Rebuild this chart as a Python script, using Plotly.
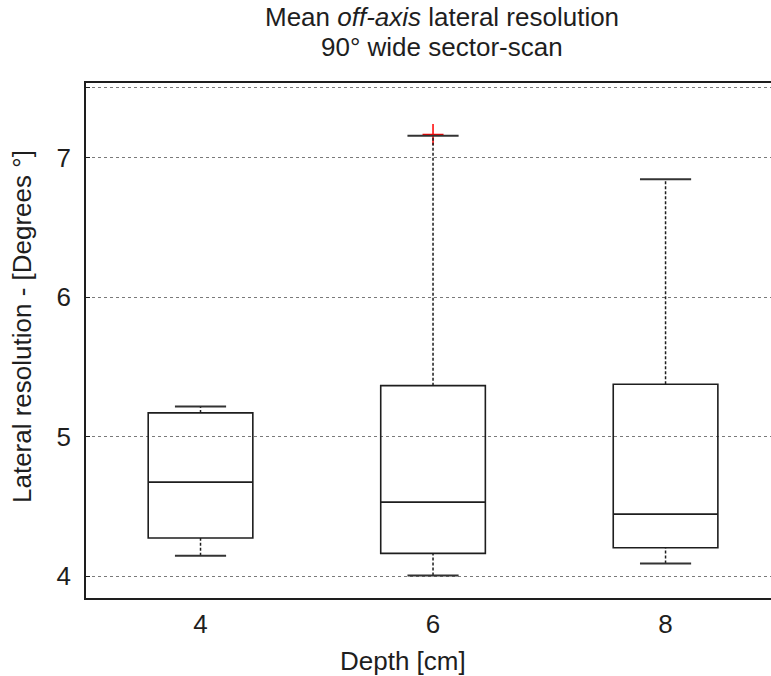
import plotly.graph_objects as go

# Summary statistics of the lateral resolution per depth (degrees)
depths = [4, 6, 8]
lower_whisker = [4.148, 4.007, 4.093]
q1 = [4.275, 4.165, 4.205]
median = [4.675, 4.532, 4.446]
q3 = [5.171, 5.366, 5.376]
upper_whisker = [5.216, 7.157, 6.845]

outlier_depth = [6]
outlier_value = [7.165]

y_ticks = [4, 5, 6, 7, 7.5]
y_tick_text = ["4", "5", "6", "7", ""]
x_ticks = [4, 6, 8]

INK = "#1e1e1e"
FONT = "Liberation Sans, Arial, sans-serif"
FS = 26
BOX_WIDTH = 0.9
CAP_HALF = 0.22

fig = go.Figure()

# Outlier (drawn first so the whisker cap sits on top of its horizontal arm)
fig.add_trace(go.Scatter(
    x=outlier_depth, y=outlier_value, mode="markers",
    marker=dict(symbol="cross-thin", size=15, line=dict(color="#ff0000", width=1.5)),
    hoverinfo="skip", showlegend=False,
))

# Boxes (quartiles + median) — whiskers drawn separately as dotted lines
fig.add_trace(go.Box(
    x=depths, q1=q1, median=median, q3=q3,
    lowerfence=q1, upperfence=q3,
    width=BOX_WIDTH, whiskerwidth=0,
    fillcolor="rgba(255,255,255,0)",
    line=dict(color=INK, width=1.6),
    boxpoints=False, hoverinfo="skip", showlegend=False,
))

# Dotted whisker stems
wx, wy = [], []
for d, lo, a, b, hi in zip(depths, lower_whisker, q1, q3, upper_whisker):
    wx += [d, d, None, d, d, None]
    wy += [lo, a, None, b, hi, None]
fig.add_trace(go.Scatter(
    x=wx, y=wy, mode="lines",
    line=dict(color=INK, width=1.5, dash="3px,2px"),
    hoverinfo="skip", showlegend=False,
))

# Solid whisker caps
cx, cy = [], []
for d, lo, hi in zip(depths, lower_whisker, upper_whisker):
    cx += [d - CAP_HALF, d + CAP_HALF, None, d - CAP_HALF, d + CAP_HALF, None]
    cy += [lo, lo, None, hi, hi, None]
fig.add_trace(go.Scatter(
    x=cx, y=cy, mode="lines",
    line=dict(color="#333333", width=2),
    hoverinfo="skip", showlegend=False,
))

fig.update_layout(
    width=771, height=676,
    margin=dict(l=86, r=0, t=83, b=78),
    paper_bgcolor="white", plot_bgcolor="white",
    font=dict(family=FONT, size=FS, color=INK),
    xaxis=dict(
        range=[3.015, 8.907],
        tickvals=x_ticks, ticktext=[str(v) for v in x_ticks],
        showgrid=False, zeroline=False,
        showline=True, linecolor=INK, linewidth=1.8, mirror=True,
        ticks="", ticklabelstandoff=2,
        tickfont=dict(size=FS, color=INK),
    ),
    yaxis=dict(
        range=[3.845, 7.534],
        tickvals=y_ticks, ticktext=y_tick_text,
        showgrid=True, gridcolor="#7a7a7a", gridwidth=1, griddash="dot",
        zeroline=False,
        showline=True, linecolor=INK, linewidth=1.8,
        ticks="inside", ticklen=4, tickcolor=INK,
        ticklabelstandoff=8,
        tickfont=dict(size=FS, color=INK),
    ),
    annotations=[
        dict(text="Mean <i>off-axis</i> lateral resolution", xref="paper", yref="paper",
             x=(442 - 86) / 685, y=1 + (82.7 - 17) / 515.6,
             xanchor="center", yanchor="middle", showarrow=False,
             font=dict(size=FS, color=INK)),
        dict(text="90° wide sector-scan", xref="paper", yref="paper",
             x=(442 - 86) / 685, y=1 + (82.7 - 47) / 515.6,
             xanchor="center", yanchor="middle", showarrow=False,
             font=dict(size=FS, color=INK)),
        dict(text="Depth [cm]", xref="paper", yref="paper",
             x=(403 - 86) / 685, y=-(661 - 598.3) / 515.6,
             xanchor="center", yanchor="middle", showarrow=False,
             font=dict(size=FS, color=INK)),
        dict(text="Lateral resolution - [Degrees °]", xref="paper", yref="paper",
             x=(22 - 86) / 685, y=(598.3 - 327) / 515.6, textangle=-90,
             xanchor="center", yanchor="middle", showarrow=False,
             font=dict(size=FS, color=INK)),
    ],
)

fig.write_html("out.html")
